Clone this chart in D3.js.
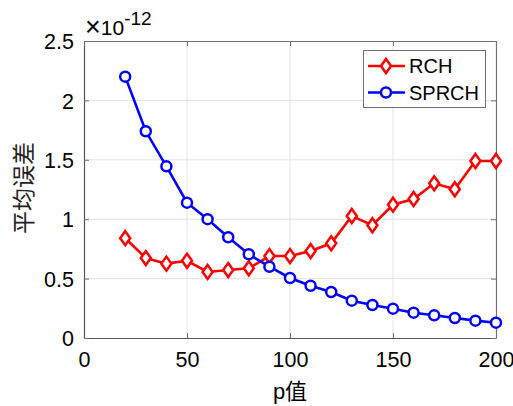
<!DOCTYPE html>
<html><head><meta charset="utf-8">
<script src="https://cdn.jsdelivr.net/npm/d3@7"></script>
<style>body{margin:0;background:#fff}svg{display:block}</style>
</head><body>
<svg id="c" width="513" height="406"></svg>
<script>
const pValues = [20,30,40,50,60,70,80,90,100,110,120,130,140,150,160,170,180,190,200];
const rch = [0.84,0.673,0.626,0.65,0.556,0.572,0.587,0.69,0.69,0.732,0.797,1.027,0.949,1.122,1.17,1.302,1.252,1.49,1.49];
const sprch = [2.2,1.74,1.445,1.139,1.0,0.848,0.705,0.6,0.505,0.44,0.387,0.314,0.278,0.247,0.213,0.191,0.168,0.146,0.129];
const xTicks = [0,50,100,150,200];
const yTicks = [0,0.5,1,1.5,2,2.5];
const yTickLabels = ["0","0.5","1","1.5","2","2.5"];
const seriesNames = ["RCH","SPRCH"];
const xLabel = "p值", yLabel = "平均误差";

const svg = d3.select("#c");
const L=84, R=496, T=41, B=338;
const x = d3.scaleLinear().domain([0,200]).range([L,R]);
const y = d3.scaleLinear().domain([0,2.5]).range([B,T]);
const font = "'Liberation Sans', Arial, sans-serif";

// grid
svg.append("g").selectAll("line").data(xTicks.slice(1,-1)).join("line")
  .attr("x1",d=>x(d)).attr("x2",d=>x(d)).attr("y1",T).attr("y2",B)
  .attr("stroke","#e3e3e3").attr("stroke-width",1);
svg.append("g").selectAll("line").data(yTicks.slice(1,-1)).join("line")
  .attr("y1",d=>y(d)).attr("y2",d=>y(d)).attr("x1",L).attr("x2",R)
  .attr("stroke","#e3e3e3").attr("stroke-width",1);

// axes
const xa = svg.append("g").attr("transform",`translate(0,${B})`)
  .call(d3.axisBottom(x).tickValues(xTicks).tickSizeInner(-5).tickSizeOuter(0).tickPadding(14));
const ya = svg.append("g").attr("transform",`translate(${L},0)`)
  .call(d3.axisLeft(y).tickValues(yTicks).tickFormat((d,i)=>yTickLabels[i]).tickSizeInner(-5).tickSizeOuter(0).tickPadding(10));
svg.append("g").attr("transform",`translate(0,${T})`)
  .call(d3.axisTop(x).tickValues(xTicks).tickSizeInner(-5).tickSizeOuter(0).tickFormat(""));
svg.append("g").attr("transform",`translate(${R},0)`)
  .call(d3.axisRight(y).tickValues(yTicks).tickSizeInner(-5).tickSizeOuter(0).tickFormat(""));
svg.selectAll(".domain").attr("stroke","#707070").attr("stroke-width",1.2);
svg.selectAll(".tick line").attr("stroke","#707070");
[xa,ya].forEach(a=>a.selectAll("text").attr("font-family",font).attr("font-size",21.5).attr("fill","#000"));
xa.selectAll("text").attr("dy","0.71em");
ya.selectAll("text").attr("dy","0.36em");
xa.select(".domain").attr("stroke","#555");
ya.select(".domain").attr("stroke","#555");

// exponent
const ex = svg.append("text").attr("x",85).attr("y",35).attr("font-family",font).attr("font-size",21).attr("fill","#000");
ex.append("tspan").attr("font-size",27).attr("dy",1).text("×");
ex.append("tspan").attr("dy",-1).text("10");
ex.append("tspan").attr("dy",-10).attr("font-size",19).text("-12");

// labels
svg.append("text").attr("x",(L+R)/2).attr("y",399).attr("text-anchor","middle")
  .attr("font-family","'Liberation Sans','Noto Sans CJK SC',sans-serif").attr("font-size",22).attr("fill","#000").text(xLabel);
svg.append("text").attr("transform",`translate(32,188) rotate(-90)`).attr("text-anchor","middle")
  .attr("font-family","'Noto Sans CJK SC',sans-serif").attr("font-size",23).attr("fill","#222").text(yLabel);

// series
const data = [
  {name:seriesNames[0], vals:rch, color:"#ff0000", marker:"diamond"},
  {name:seriesNames[1], vals:sprch, color:"#0000ff", marker:"circle"}
];
const line = d3.line().x((d,i)=>x(pValues[i])).y(d=>y(d));
function drawMarker(g, type, cx, cy, color){
  if(type==="circle"){
    g.append("circle").attr("cx",cx).attr("cy",cy).attr("r",5).attr("fill","#fff").attr("stroke",color).attr("stroke-width",2.5);
  } else {
    g.append("path").attr("d",`M${cx},${cy-7}L${cx+5},${cy}L${cx},${cy+7}L${cx-5},${cy}Z`)
      .attr("fill","#fff").attr("stroke",color).attr("stroke-width",2.5);
  }
}
data.forEach(s=>{
  const g = svg.append("g");
  g.append("path").attr("d",line(s.vals)).attr("fill","none").attr("stroke",s.color).attr("stroke-width",2.6);
  s.vals.forEach((v,i)=>drawMarker(g,s.marker,x(pValues[i]),y(v),s.color));
});

// legend
const lg = svg.append("g");
lg.append("rect").attr("x",363.5).attr("y",50.5).attr("width",122).attr("height",57)
  .attr("fill","#fff").attr("stroke","#6e6e6e").attr("stroke-width",1);
data.forEach((s,i)=>{
  const cy = 66 + i*26.5;
  lg.append("line").attr("x1",368).attr("x2",405).attr("y1",cy).attr("y2",cy).attr("stroke",s.color).attr("stroke-width",2.6);
  drawMarker(lg,s.marker,386,cy,s.color);
  lg.append("text").attr("x",409).attr("y",cy).attr("dy","0.36em").attr("font-family",font).attr("font-size",20).attr("fill","#000").text(s.name);
});
</script>
</body></html>
